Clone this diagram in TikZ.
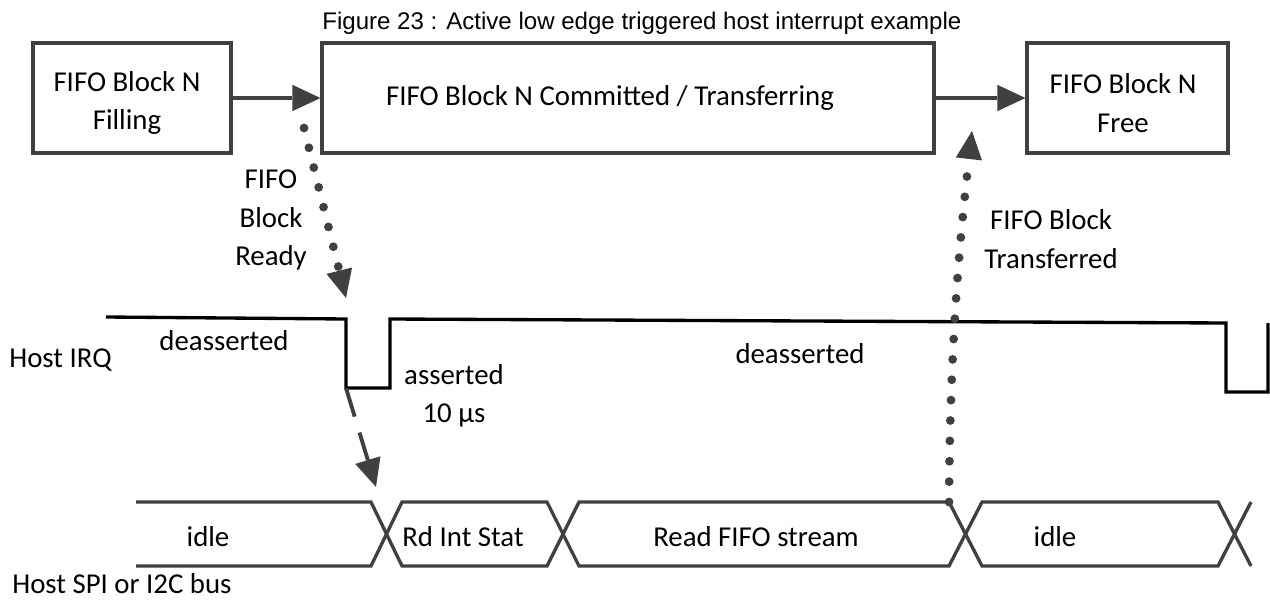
\documentclass[tikz,border=0pt]{standalone}
\usepackage{fontspec}
\setmainfont{Carlito}
\newfontfamily\capfont{Liberation Sans}
\usetikzlibrary{arrows.meta}
\definecolor{ink}{HTML}{404040}

\begin{document}
\begin{tikzpicture}[x=0.02cm,y=-0.02cm,
  every node/.style={font=\fontsize{16.4}{21.8}\selectfont,inner sep=0pt},
  blk/.style={draw=ink,line width=1.8pt,minimum height=2.2cm},
  tip/.style={-{Triangle[length=16pt,width=15pt,line width=0pt]}},
  arr/.style={ink,line width=2.2pt,tip},
  dots/.style={ink,line width=5pt,line cap=round,dash pattern=on 0pt off 11.6pt,tip},
  dasharr/.style={ink,line width=2.2pt,dash pattern=on 17pt off 9.5pt,tip},
  sig/.style={black,line width=1.9pt},
  bus/.style={ink,line width=1.9pt}]
\useasboundingbox (0,0) rectangle (1270,608);

\node[font=\capfont\fontsize{13.7}{16}\selectfont,anchor=base west] (title) at (322,30) {Figure 23 : Active low edge triggered host interrupt example};

\node[blk,minimum width=3.96cm] (filling) at (132,98) {};
\node[align=center] (fillingtxt) at (127,103) {FIFO Block N\\Filling};
\node[blk,minimum width=12.24cm] (commit) at (628,98) {};
\node[anchor=base] (committxt) at (610,106) {FIFO Block N Committed / Transferring};
\node[blk,minimum width=4.02cm] (free) at (1127.5,98) {};
\node[align=center] (freetxt) at (1123,103) {FIFO Block N\\Free};
\draw[arr] (filling) -- (commit);
\draw[arr] (commit) -- (free);

\coordinate (rdy) at (304,128);
\coordinate (fall) at (346,298);
\draw[dots] (rdy) -- (fall);
\node[align=center] (ready) at (271,220) {FIFO\\Block\\Ready};

\node[anchor=base west] (irq) at (9,367) {Host IRQ};
\draw[sig] (106,317) -- (346,319) -- (346,388) coordinate (irqlo) -- (390,388) -- (390,319) -- (1226,323) -- (1226,392) -- (1268,392) -- (1268,323);
\node[anchor=base] (deas1) at (224,350) {deasserted};
\node[align=center] (asrt) at (454,396) {asserted\\10 µs};
\node[anchor=base] (deas2) at (800,363) {deasserted};

\draw[bus] (136,502) -- (371,502) -- (402,566) -- (547,566) -- (579,502) -- (949,502) coordinate (busx) -- (982,566) -- (1218,566) -- (1251,502);
\draw[bus] (136,566) -- (371,566) -- (402,502) -- (547,502) -- (579,566) -- (949,566) -- (982,502) -- (1218,502) -- (1251,566);
\node[anchor=base] (idle1) at (208,546) {idle};
\node[anchor=base] (rdint) at (463,546) {Rd Int Stat};
\node[anchor=base] (rdfifo) at (756,546) {Read FIFO stream};
\node[anchor=base] (idle2) at (1055,546) {idle};
\node[anchor=base west] (spi) at (12,593) {Host SPI or I2C bus};

\coordinate (rdtip) at (376,487);
\draw[dasharr] (irqlo) -- (rdtip);
\coordinate (donetip) at (972,131);
\draw[dots] (busx) .. controls (950,330) and (962,220) .. (donetip);
\node[align=center] (done) at (1051,239) {FIFO Block\\Transferred};
\end{tikzpicture}
\end{document}
